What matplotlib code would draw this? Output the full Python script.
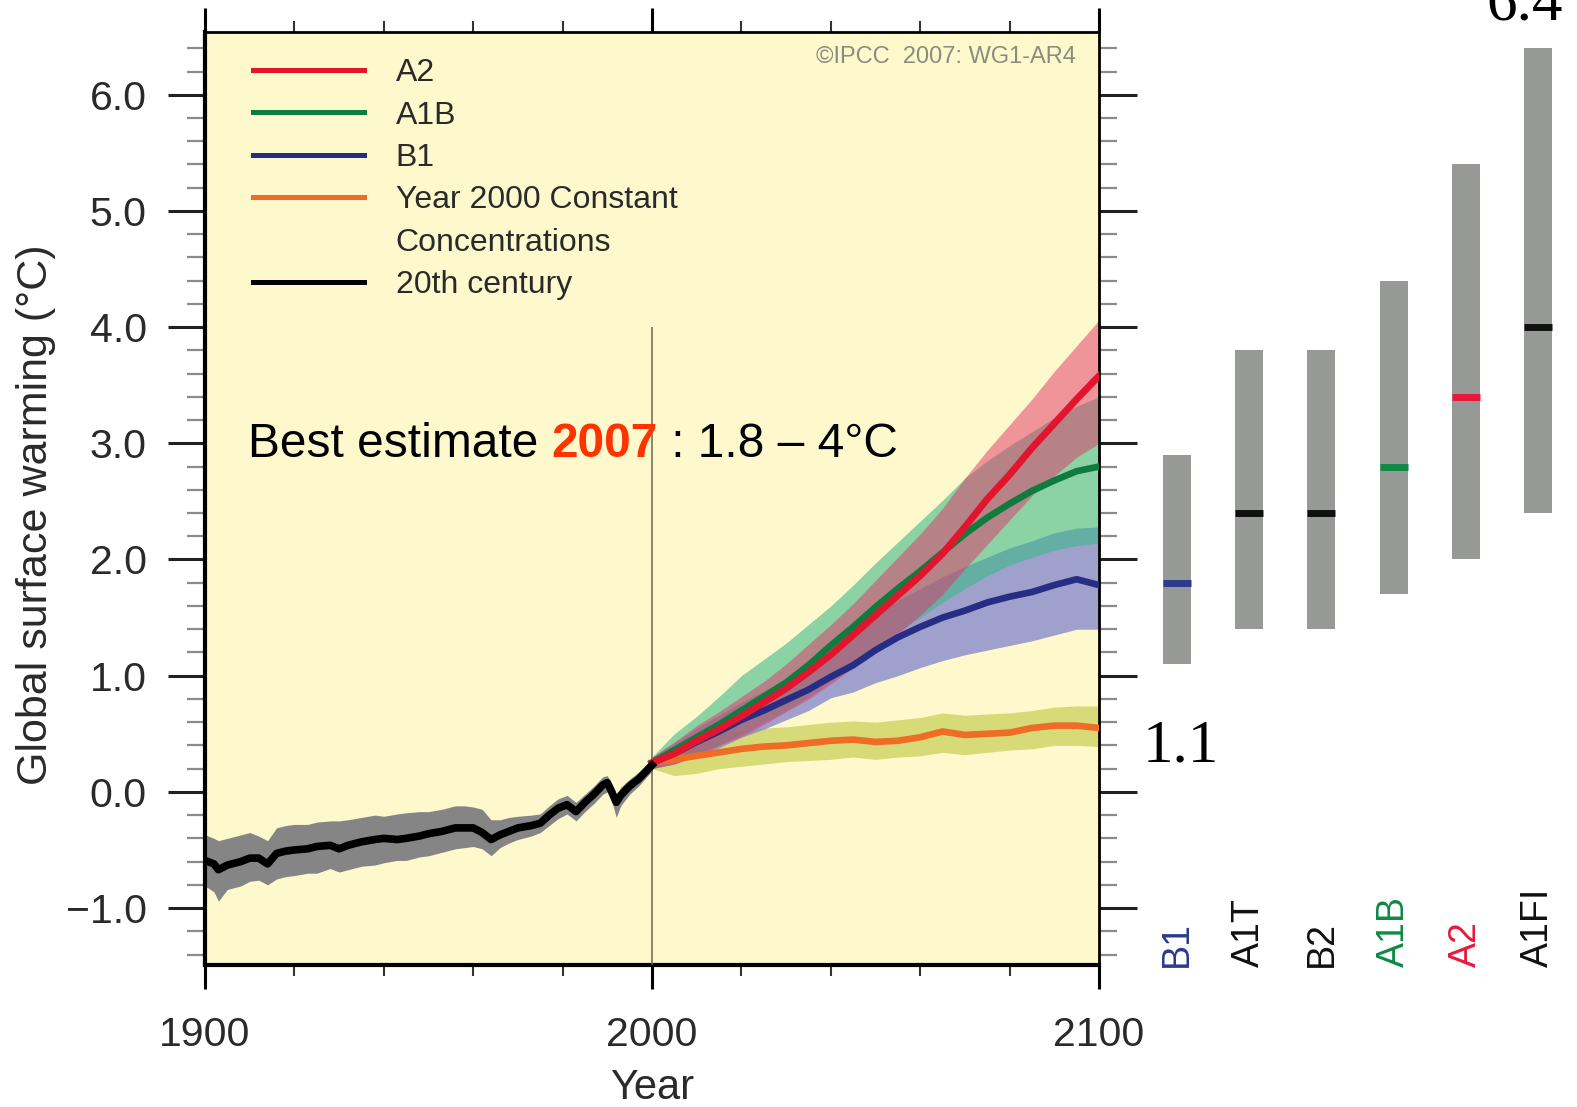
import matplotlib
matplotlib.use("Agg")
import matplotlib.pyplot as plt
from matplotlib.lines import Line2D
from matplotlib.ticker import MultipleLocator, FuncFormatter

plt.rcParams['font.family'] = ['Liberation Sans', 'DejaVu Sans']

# ---- 20th century ----
hist_years = [1900, 1902, 1903, 1905, 1908, 1910, 1912, 1914, 1916, 1918,
              1920, 1923, 1925, 1928, 1930, 1932, 1935, 1938, 1940, 1943,
              1945, 1948, 1950, 1953, 1956, 1958, 1960, 1962, 1964, 1966,
              1968, 1970, 1973, 1975, 1977, 1979, 1981, 1983, 1985, 1987,
              1989, 1990, 1991, 1992, 1993, 1995, 1997, 2000]
hist_mean = [-0.59, -0.62, -0.67, -0.63, -0.60, -0.57, -0.57, -0.62, -0.53, -0.51,
             -0.50, -0.49, -0.47, -0.46, -0.49, -0.46, -0.43, -0.41, -0.40, -0.41,
             -0.40, -0.38, -0.36, -0.34, -0.31, -0.31, -0.31, -0.35, -0.41, -0.37,
             -0.34, -0.31, -0.29, -0.27, -0.20, -0.14, -0.11, -0.17, -0.09, -0.02,
             0.06, 0.08, 0.00, -0.09, -0.03, 0.05, 0.11, 0.23]
hist_lo = [-0.81, -0.86, -0.94, -0.84, -0.81, -0.77, -0.76, -0.80, -0.75, -0.73,
           -0.72, -0.70, -0.70, -0.66, -0.69, -0.67, -0.64, -0.63, -0.61, -0.59,
           -0.59, -0.56, -0.55, -0.52, -0.49, -0.48, -0.47, -0.49, -0.55, -0.48,
           -0.44, -0.41, -0.38, -0.35, -0.29, -0.23, -0.19, -0.25, -0.17, -0.10,
           -0.02, 0.00, -0.08, -0.22, -0.12, -0.02, 0.05, 0.18]
hist_hi = [-0.37, -0.40, -0.42, -0.40, -0.37, -0.35, -0.38, -0.42, -0.31, -0.29,
           -0.28, -0.28, -0.26, -0.25, -0.25, -0.24, -0.22, -0.20, -0.21, -0.19,
           -0.18, -0.17, -0.17, -0.15, -0.12, -0.12, -0.13, -0.15, -0.24, -0.24,
           -0.22, -0.21, -0.20, -0.19, -0.12, -0.06, -0.03, -0.09, -0.02, 0.05,
           0.13, 0.14, 0.07, -0.02, 0.04, 0.11, 0.17, 0.28]

# ---- projections, every 5 years 2000-2100 ----
fut_years = [2000, 2005, 2010, 2015, 2020, 2025, 2030, 2035, 2040, 2045, 2050,
             2055, 2060, 2065, 2070, 2075, 2080, 2085, 2090, 2095, 2100]

a2_mean = [0.25, 0.33, 0.44, 0.54, 0.65, 0.77, 0.89, 1.03, 1.18, 1.35, 1.52,
           1.69, 1.86, 2.05, 2.28, 2.52, 2.73, 2.96, 3.17, 3.38, 3.58]
a2_lo = [0.20, 0.24, 0.31, 0.40, 0.48, 0.58, 0.69, 0.80, 0.93, 1.07, 1.22,
         1.36, 1.52, 1.70, 1.92, 2.13, 2.34, 2.55, 2.72, 2.88, 3.00]
a2_hi = [0.30, 0.43, 0.57, 0.69, 0.82, 0.95, 1.10, 1.27, 1.44, 1.62, 1.82,
         2.02, 2.22, 2.44, 2.70, 2.94, 3.16, 3.38, 3.62, 3.84, 4.06]

a1b_mean = [0.25, 0.36, 0.47, 0.58, 0.70, 0.82, 0.94, 1.09, 1.26, 1.42, 1.59,
            1.75, 1.90, 2.06, 2.22, 2.36, 2.48, 2.59, 2.68, 2.76, 2.80]
a1b_lo = [0.20, 0.26, 0.33, 0.41, 0.50, 0.60, 0.70, 0.82, 0.95, 1.10, 1.25,
          1.38, 1.50, 1.63, 1.75, 1.86, 1.95, 2.02, 2.08, 2.12, 2.14]
a1b_hi = [0.30, 0.50, 0.65, 0.82, 1.00, 1.14, 1.28, 1.44, 1.60, 1.78, 1.97,
          2.15, 2.33, 2.51, 2.70, 2.85, 2.98, 3.10, 3.22, 3.32, 3.40]

b1_mean = [0.25, 0.33, 0.43, 0.52, 0.62, 0.70, 0.79, 0.88, 0.99, 1.09, 1.22,
           1.33, 1.42, 1.50, 1.56, 1.63, 1.68, 1.72, 1.78, 1.83, 1.78]
b1_lo = [0.20, 0.24, 0.31, 0.38, 0.47, 0.54, 0.62, 0.70, 0.81, 0.86, 0.94,
         1.00, 1.07, 1.13, 1.18, 1.22, 1.26, 1.30, 1.35, 1.40, 1.40]
b1_hi = [0.30, 0.42, 0.55, 0.66, 0.77, 0.87, 0.97, 1.08, 1.21, 1.34, 1.52,
         1.65, 1.75, 1.85, 1.94, 2.02, 2.10, 2.16, 2.23, 2.27, 2.28]

const_mean = [0.25, 0.28, 0.31, 0.34, 0.37, 0.39, 0.40, 0.42, 0.44, 0.45, 0.43,
              0.44, 0.47, 0.52, 0.49, 0.50, 0.51, 0.55, 0.57, 0.57, 0.55]
const_lo = [0.20, 0.14, 0.16, 0.20, 0.22, 0.24, 0.26, 0.27, 0.28, 0.30, 0.28,
            0.30, 0.31, 0.34, 0.32, 0.34, 0.36, 0.37, 0.40, 0.40, 0.39]
const_hi = [0.30, 0.40, 0.46, 0.50, 0.53, 0.55, 0.56, 0.58, 0.60, 0.61, 0.60,
            0.62, 0.64, 0.68, 0.66, 0.67, 0.68, 0.70, 0.73, 0.74, 0.74]

# ---- likely ranges at 2090-2099 (right panel) ----
scen_names = ["B1", "A1T", "B2", "A1B", "A2", "A1FI"]
scen_lo = [1.1, 1.4, 1.4, 1.7, 2.0, 2.4]
scen_hi = [2.9, 3.8, 3.8, 4.4, 5.4, 6.4]
scen_best = [1.8, 2.4, 2.4, 2.8, 3.4, 4.0]
scen_colors = ["#2b3a8c", "#111111", "#111111", "#0e8a45", "#e8183c", "#111111"]

# colours
c_a2, c_a1b, c_b1, c_const = "#e3142d", "#0e7c3f", "#262d84", "#ef6c27"
txt_col = "#2a2a2a"

W, H = 1577, 1107
fig = plt.figure(figsize=(W / 100, H / 100), dpi=100)
ax_l, ax_r, ax_t, ax_b = 205, 1099, 32, 965
ax = fig.add_axes([ax_l / W, 1 - ax_b / H, (ax_r - ax_l) / W, (ax_b - ax_t) / H])
ax.set_facecolor("#fef9cd")
ylim = (-1.49, 6.54)
ax.set_xlim(1900, 2100)
ax.set_ylim(*ylim)

# bands
ax.fill_between(hist_years, hist_lo, hist_hi, color="#858585", lw=0, zorder=2)
ax.fill_between(fut_years, const_lo, const_hi, color="#c7cf53", alpha=0.7, lw=0, zorder=2)
ax.fill_between(fut_years, b1_lo, b1_hi, color="#787acc", alpha=0.7, lw=0, zorder=2)
ax.fill_between(fut_years, a1b_lo, a1b_hi, color="#3fb889", alpha=0.6, lw=0, zorder=2)
ax.fill_between(fut_years, a2_lo, a2_hi, color="#e23368", alpha=0.5, lw=0, zorder=2)

# means
ax.vlines(2000, ylim[0], 4.0, color="#6b6550", lw=1.1, zorder=3)
ax.plot(fut_years, const_mean, color=c_const, lw=4.8, zorder=4)
ax.plot(fut_years, b1_mean, color=c_b1, lw=4.8, zorder=4)
ax.plot(fut_years, a1b_mean, color=c_a1b, lw=4.8, zorder=4)
ax.plot(fut_years, a2_mean, color=c_a2, lw=5, zorder=5)
ax.plot(hist_years, hist_mean, color="black", lw=5.5, zorder=5)

# axes styling
for side in ["left", "bottom"]:
    ax.spines[side].set_linewidth(3)
for side in ["top", "right"]:
    ax.spines[side].set_linewidth(2)

ax.xaxis.set_major_locator(MultipleLocator(100))
ax.xaxis.set_minor_locator(MultipleLocator(20))
ax.yaxis.set_major_locator(MultipleLocator(1.0))
ax.yaxis.set_minor_locator(MultipleLocator(0.2))
ax.yaxis.set_major_formatter(FuncFormatter(lambda v, p: f"{v:.1f}".replace("-", "\u2212")))

ax.tick_params(axis="x", which="both", direction="out", top=True, bottom=True)
ax.tick_params(axis="x", which="major", length=17, width=2.2, pad=20,
               labelsize=29.5, labelcolor=txt_col)
ax.tick_params(axis="x", which="minor", length=8, width=1.5, color="#333333")
ax.tick_params(axis="y", which="both", direction="out", left=True, right=True)
ax.tick_params(axis="y", which="major", length=27, width=2.2, pad=15,
               labelsize=29.5, labelcolor=txt_col, color="#222222")
ax.tick_params(axis="y", which="minor", length=13, width=1.6, color="#8a8a8a")

ax.set_xlabel("Year", fontsize=30, color=txt_col, labelpad=10)
ax.set_ylabel("Global surface warming (\u00b0C)", fontsize=31, color=txt_col)
ax.yaxis.label.set_verticalalignment("center")
ax.yaxis.set_label_coords(-0.1885, 0.483)

# legend (second line of the constant-concentration entry gets an empty handle)
handles = [Line2D([], [], color=c_a2, lw=3.6),
           Line2D([], [], color=c_a1b, lw=3.6),
           Line2D([], [], color=c_b1, lw=3.6),
           Line2D([], [], color=c_const, lw=3.6),
           Line2D([], [], color="none", lw=0),
           Line2D([], [], color="black", lw=3.6)]
labels = ["A2", "A1B", "B1", "Year 2000 Constant", "Concentrations", "20th century"]
leg = ax.legend(handles, labels, loc="upper left", bbox_to_anchor=(0.0535, 0.972),
                frameon=False, fontsize=23, handlelength=3.47, handletextpad=1.0,
                labelspacing=0.39, borderpad=0, borderaxespad=0)
for t in leg.get_texts():
    t.set_color(txt_col)

ax.text(0.974, 0.973, "\u00a9IPCC  2007: WG1-AR4", transform=ax.transAxes,
        ha="right", va="center", fontsize=17, color="#8c8c7c")

# headline text
t1 = ax.text(0.048, 0.5445, "Best estimate ", transform=ax.transAxes,
             fontsize=34.5, color="black", va="baseline", ha="left", zorder=6)
t2 = ax.annotate("2007", xy=(1, 0), xycoords=t1, va="bottom", ha="left",
                 fontsize=34.5, fontweight="bold", color="#ff3300", zorder=6)
t3 = ax.annotate(" : 1.8 \u2013 4\u00b0C", xy=(1, 0), xycoords=t2, va="bottom",
                 ha="left", fontsize=34.5, color="black", zorder=6)

# right panel: likely ranges
x0 = 1104.8
ax2 = fig.add_axes([x0 / W, 1 - ax_b / H, (W - x0) / W, (ax_b - ax_t) / H])
ax2.set_xlim(-1, 5.54)
ax2.set_ylim(*ylim)
ax2.axis("off")
ax2.patch.set_alpha(0)
idx = list(range(len(scen_names)))
bw = 0.39
ax2.bar(idx, [h - l for h, l in zip(scen_hi, scen_lo)], bottom=scen_lo,
        width=bw, color="#979997", lw=0)
ax2.hlines(scen_best, [i - bw / 2 for i in idx], [i + bw / 2 for i in idx],
           colors=scen_colors, lw=5)
for i, name, col in zip(idx, scen_names, scen_colors):
    ax2.text(i, ylim[0] - 0.02, name, rotation=90, ha="center", va="bottom",
             fontsize=27, color=col, clip_on=False)

fig.text(1143 / W, 1 - 761 / H, f"{scen_lo[0]:.1f}", family="Liberation Serif",
         fontsize=44, va="baseline", ha="left")
fig.text(1486 / W, 1 - 20 / H, f"{scen_hi[-1]:.1f}", family="Liberation Serif",
         fontsize=44, va="baseline", ha="left")

fig.savefig("out.png", dpi=100, facecolor="white")
